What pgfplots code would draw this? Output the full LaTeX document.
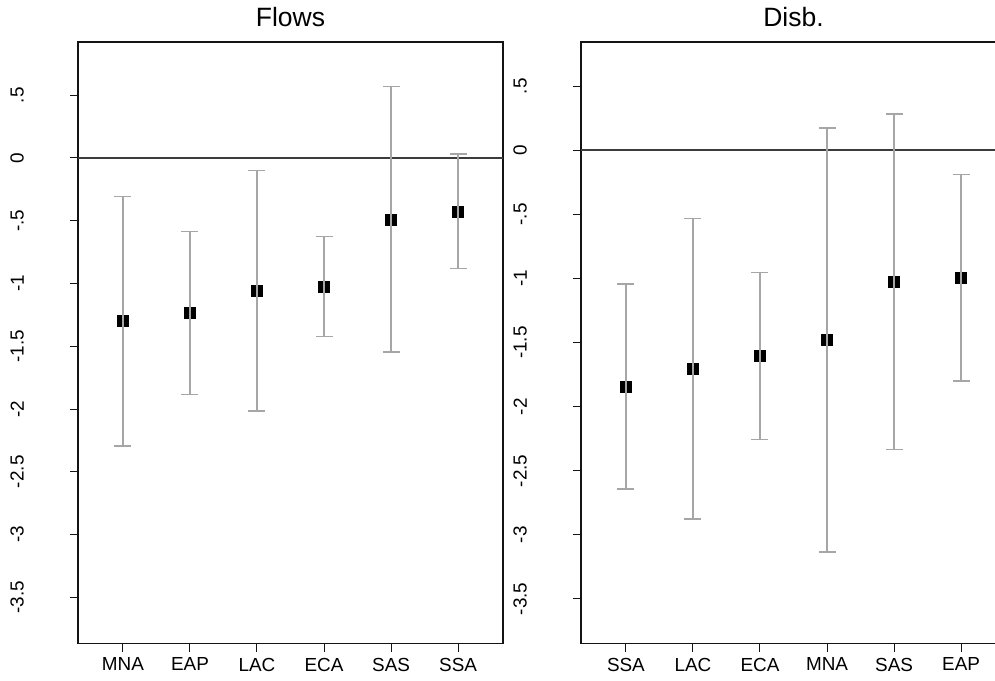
\documentclass[border=0pt]{standalone}
\usepackage{fontspec}
\setmainfont{Liberation Sans}
\usepackage{pgfplots}
\usepackage{pgfplotstable}
\pgfplotsset{compat=1.18}

\definecolor{barcol}{HTML}{A6A6A6}
\definecolor{zerocol}{HTML}{3C3C3C}
\definecolor{framecol}{HTML}{141414}

% estimate and half-width of the interval
\pgfplotstableread{
x  y        e
1  -1.300   0.995
2  -1.235   0.651
3  -1.058   0.958
4  -1.024   0.397
5  -0.488   1.059
6  -0.425   0.457
}\flows

\pgfplotstableread{
x  y        e
1  -1.842   0.799
2  -1.705   1.172
3  -1.606   0.651
4  -1.479   1.655
5  -1.026   1.309
6  -0.994   0.804
}\disb

\pgfplotsset{
  panel/.style={
    set layers,
    scale only axis, width=425pt, height=601.7pt,
    xmin=0.33, xmax=6.67,
    xtick={1,...,6},
    ytick={0.5,0,-0.5,-1,-1.5,-2,-2.5,-3,-3.5},
    yticklabels={.5,0,-.5,-1,-1.5,-2,-2.5,-3,-3.5},
    tick align=outside, xtick pos=lower, ytick pos=left,
    major tick length=8pt,
    axis line style={framecol, line width=1.4pt},
    every tick/.style={framecol, line width=1pt},
    tick label style={font=\fontsize{18.9}{20}\selectfont, inner sep=0pt},
    yticklabel style={rotate=90, anchor=south},
    yticklabel shift=46pt,
    xticklabel style={anchor=north},
    xticklabel shift=6pt,
    title style={font=\fontsize{26.5}{28}\selectfont, at={(0.5,1)}, anchor=south, inner sep=0pt, yshift=9pt},
    clip=false,
  },
  means/.style={only marks, mark=square*, mark size=5.5pt, black},
  cis/.style={only marks, mark=none, forget plot, on layer=axis foreground,
    error bars/.cd, y dir=both, y explicit,
    error bar style={draw=barcol, line width=1.5pt},
    error mark options={draw=barcol, rotate=90, mark size=8.5pt, line width=1.5pt}},
}

\begin{document}
\begin{tikzpicture}
\begin{axis}[panel, at={(78pt,-42pt)}, anchor=north west,
  ymin=-3.87, ymax=0.924,
  xticklabels={MNA,EAP,LAC,ECA,SAS,SSA},
  title={Flows}]
  \draw[zerocol, line width=1.8pt] (axis cs:0.33,0) -- (axis cs:6.67,0);
  \addplot[means] table[x=x, y=y] {\flows};
  \addplot[cis] table[x=x, y=y, y error=e] {\flows};
\end{axis}
\begin{axis}[panel, at={(581pt,-42pt)}, anchor=north west,
  ymin=-3.849, ymax=0.845,
  xticklabels={SSA,LAC,ECA,MNA,SAS,EAP},
  title={Disb.}]
  \draw[zerocol, line width=1.8pt] (axis cs:0.33,0) -- (axis cs:6.67,0);
  \addplot[means] table[x=x, y=y] {\disb};
  \addplot[cis] table[x=x, y=y, y error=e] {\disb};
\end{axis}
\pgfresetboundingbox
\useasboundingbox (0,0) rectangle (995pt,-680pt);
\end{tikzpicture}
\end{document}
